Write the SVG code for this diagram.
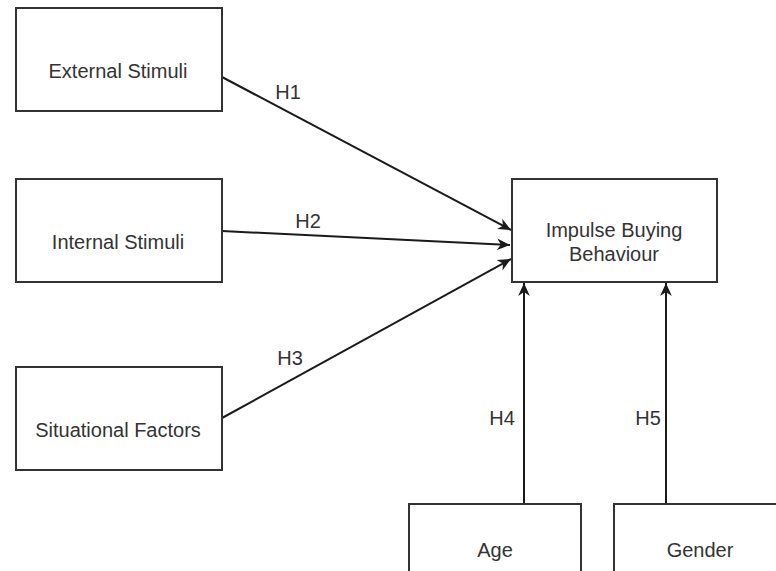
<svg xmlns="http://www.w3.org/2000/svg" width="776" height="571" viewBox="0 0 776 571">
<style>
.box{fill:#fff;stroke:#333;stroke-width:2}
.t{font-family:"Liberation Sans",Arial,sans-serif;font-size:20px;fill:#333;text-anchor:middle}
.edge{stroke:#1a1a1a;stroke-width:2;fill:none;marker-end:url(#arr)}
</style>
<defs>
<marker id="arr" viewBox="0 0 10 10" refX="10" refY="5" markerWidth="13" markerHeight="13" markerUnits="userSpaceOnUse" orient="auto">
<path d="M0,0.5 L10,5 L0,9.5 L3,5 Z" fill="#1a1a1a"/>
</marker>
</defs>
<rect width="776" height="571" fill="#fff"/>
<g id="connectors">
<line class="edge" x1="222" y1="77" x2="511" y2="230"/>
<line class="edge" x1="222" y1="231" x2="510" y2="245"/>
<line class="edge" x1="222" y1="418" x2="511" y2="259"/>
<line class="edge" x1="524" y1="504" x2="524" y2="283"/>
<line class="edge" x1="666" y1="504" x2="666" y2="283"/>
<text class="t" x="288" y="99">H1</text>
<text class="t" x="308" y="228">H2</text>
<text class="t" x="290" y="365">H3</text>
<text class="t" x="502" y="425">H4</text>
<text class="t" x="648" y="425">H5</text>
</g>
<g id="external">
<rect class="box" x="16" y="8" width="206" height="103"/>
<text class="t" x="118" y="78">External Stimuli</text>
</g>
<g id="internal">
<rect class="box" x="16" y="179" width="206" height="103"/>
<text class="t" x="118" y="249">Internal Stimuli</text>
</g>
<g id="situational">
<rect class="box" x="16" y="367" width="206" height="103"/>
<text class="t" x="118" y="437">Situational Factors</text>
</g>
<g id="impulse">
<rect class="box" x="512" y="179" width="205" height="103"/>
<text class="t" x="614" y="237">Impulse Buying</text>
<text class="t" x="614" y="261">Behaviour</text>
</g>
<g id="age">
<rect class="box" x="409" y="504" width="172" height="110"/>
<text class="t" x="495" y="557">Age</text>
</g>
<g id="gender">
<rect class="box" x="614" y="504" width="172" height="110"/>
<text class="t" x="700" y="557">Gender</text>
</g>
</svg>
